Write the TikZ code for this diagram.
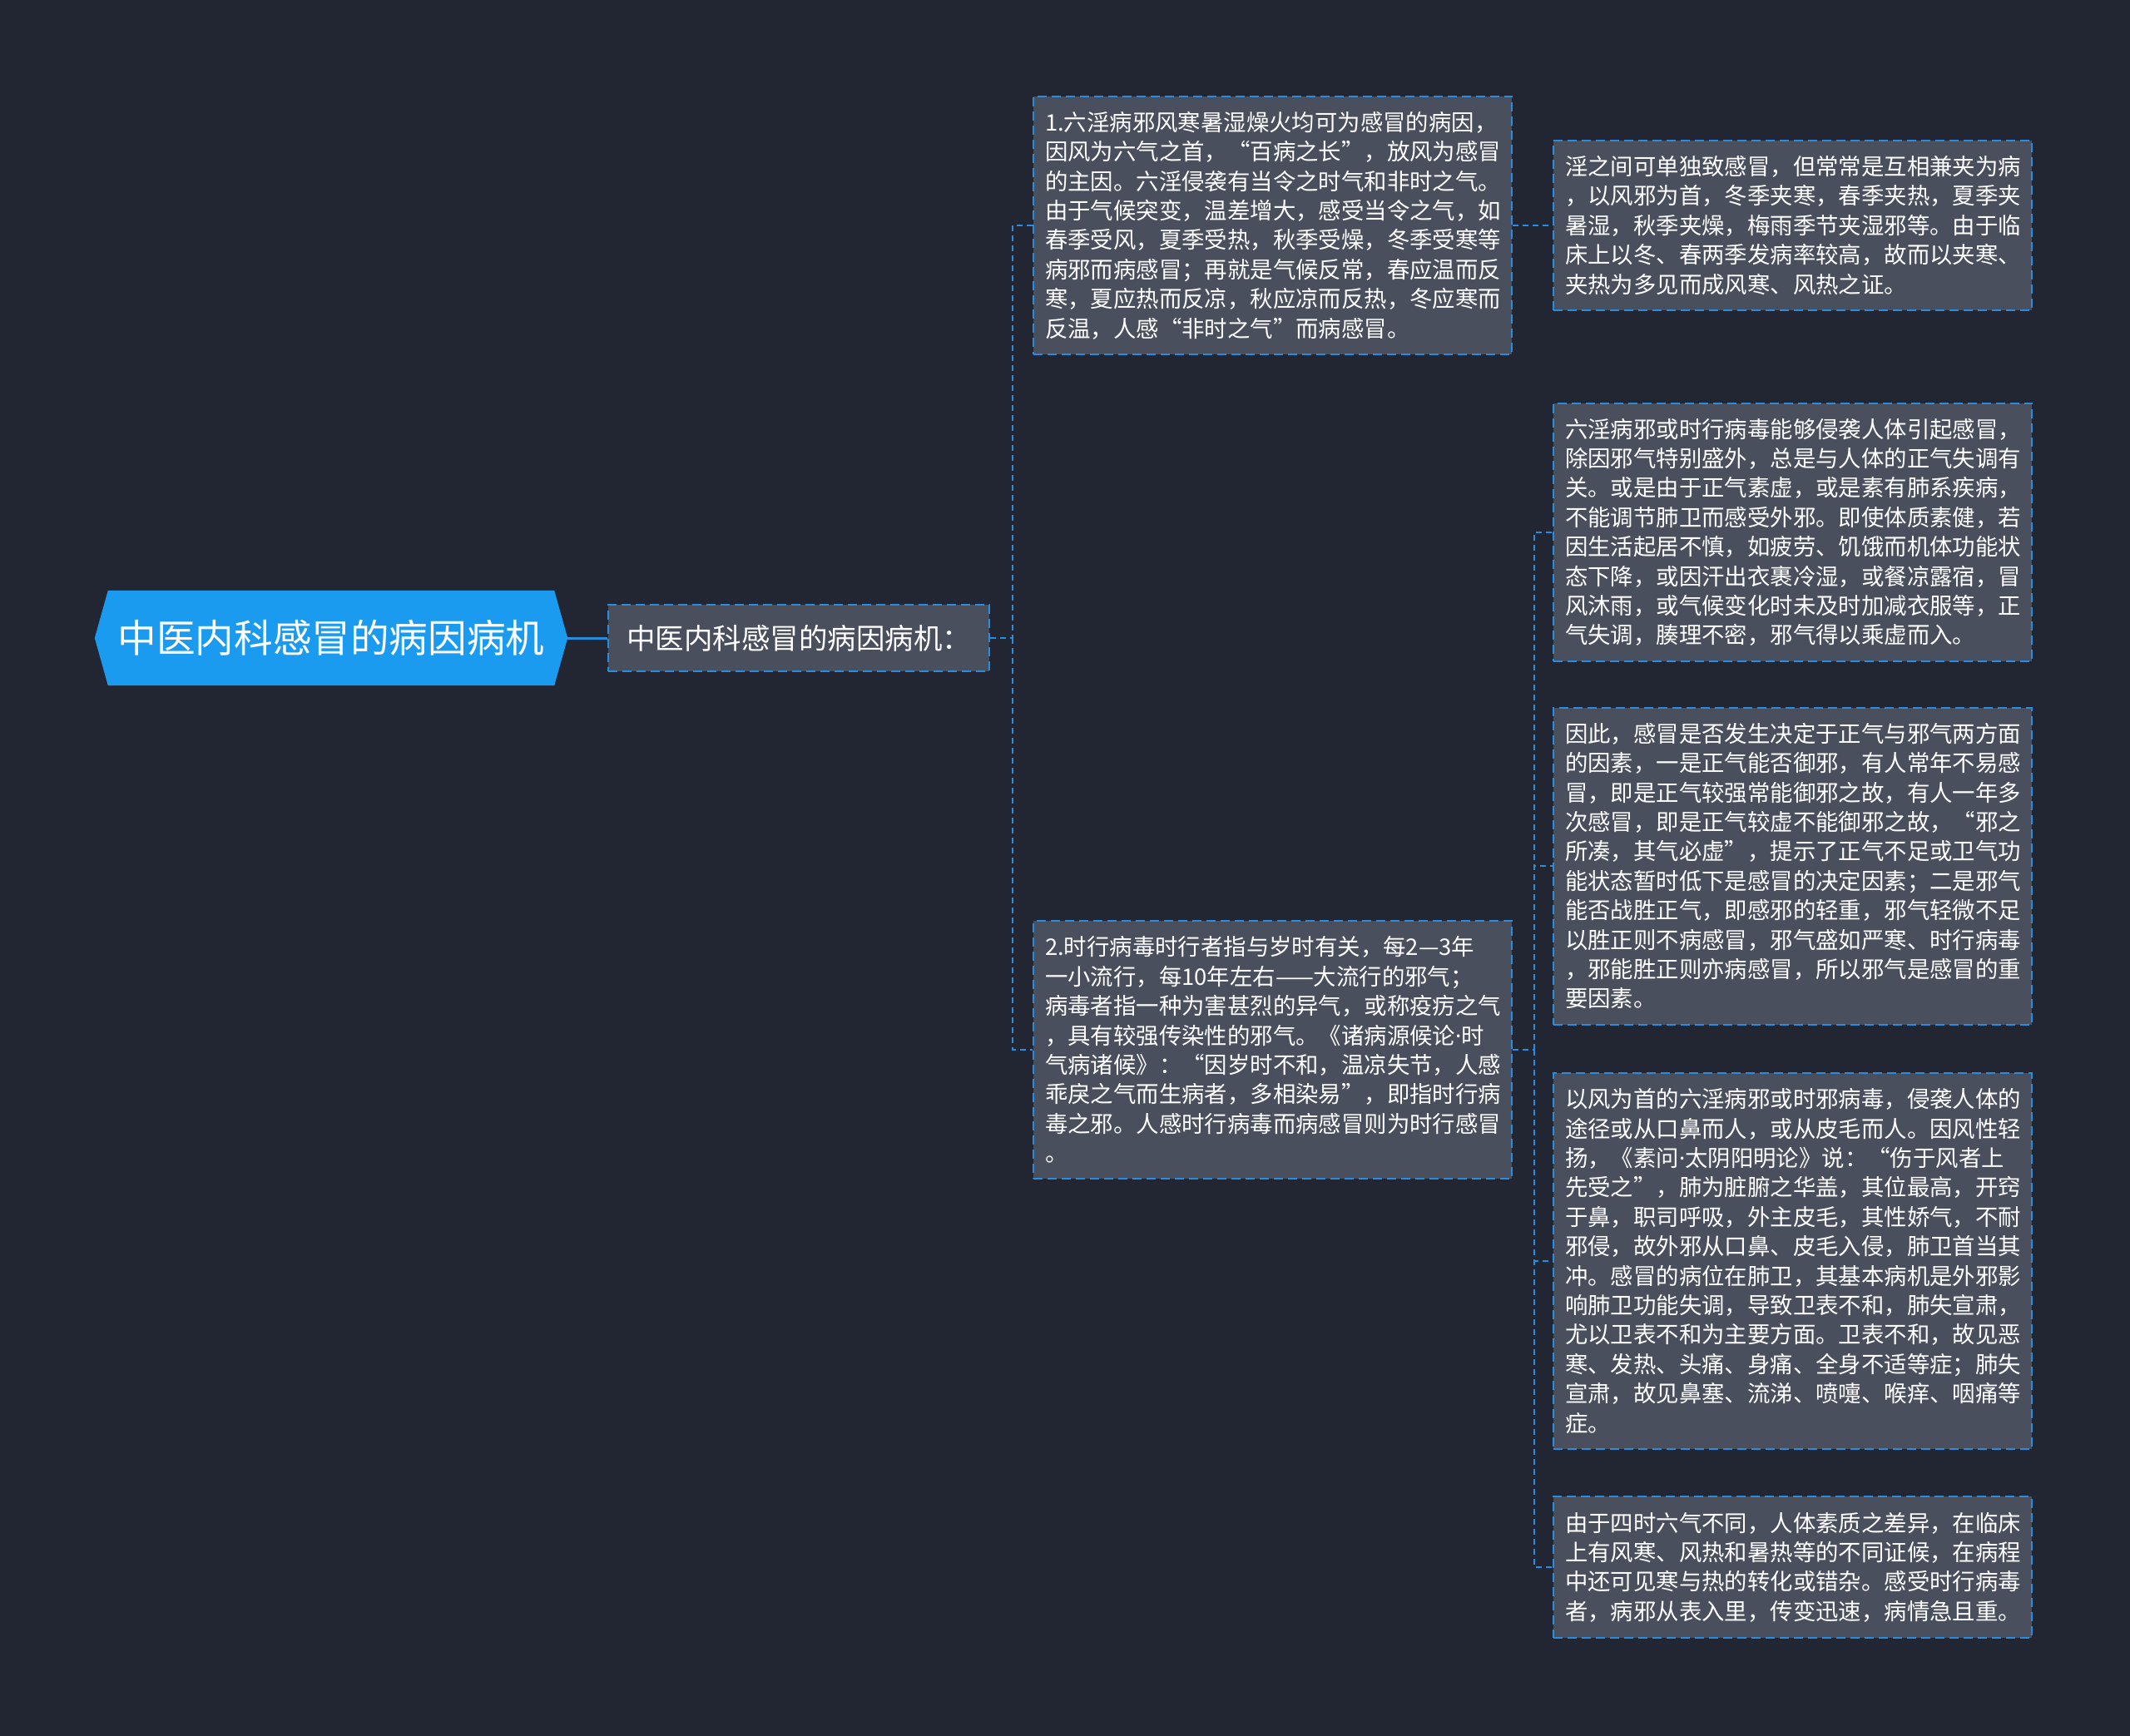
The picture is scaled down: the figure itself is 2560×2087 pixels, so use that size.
\documentclass[tikz,border=0pt]{standalone}
\usepackage{fontspec}
\setmainfont{Noto Sans CJK SC}
\newfontfamily\latin{Noto Sans}
\usetikzlibrary{calc,positioning}
\pgfdeclarelayer{bg}
\pgfsetlayers{bg,main}
\definecolor{canvas}{HTML}{222633}
\definecolor{slate}{HTML}{4A4F5D}
\definecolor{wire}{HTML}{2A8CDD}
\definecolor{sky}{HTML}{1B9BF0}
\newcommand{\mdot}{{\latin ·}}

\begin{document}
\begin{tikzpicture}[x=1pt, y=-1pt,
  box/.style={draw=wire, fill=slate, line width=2pt, dash pattern=on 11pt off 6pt, text=white},
  leaf/.style={box, anchor=west, text width=547pt, align=left, inner xsep=14pt, inner ysep=18.5pt,
    font=\fontsize{27.4pt}{35.4pt}\selectfont},
  link/.style={draw=wire, line width=2pt, dash pattern=on 7pt off 5pt}]
\begin{pgfonlayer}{bg}
\fill[canvas] (0,0) rectangle (2560,2087);
\end{pgfonlayer}
\useasboundingbox (0,0) rectangle (2560,2087);

\node[minimum width=568pt, minimum height=114pt, inner sep=0pt, text=white,
  font=\fontsize{46.6pt}{56pt}\selectfont] (root) at (398, 767) {中医内科感冒的病因病机};
\begin{pgfonlayer}{bg}
\fill[sky] (root.west) -- ($(root.north west)+(16,0)$) -- ($(root.north east)+(-16,0)$)
  -- (root.east) -- ($(root.south east)+(-16,0)$) -- ($(root.south west)+(16,0)$) -- cycle;
\end{pgfonlayer}

\node[box, minimum width=458pt, minimum height=80pt, inner sep=0pt,
  font=\fontsize{34.5pt}{40pt}\selectfont] (cause) at (960, 767) {中医内科感冒的病因病机：};

\node[leaf] (six) at (1241, 271) {1.六淫病邪风寒暑湿燥火均可为感冒的病因，\\
因风为六气之首，“百病之长”，放风为感冒\\
的主因。六淫侵袭有当令之时气和非时之气。\\
由于气候突变，温差增大，感受当令之气，如\\
春季受风，夏季受热，秋季受燥，冬季受寒等\\
病邪而病感冒；再就是气候反常，春应温而反\\
寒，夏应热而反凉，秋应凉而反热，冬应寒而\\
反温，人感“非时之气”而病感冒。};

\node[leaf] (sixmix) at (1866, 271) {淫之间可单独致感冒，但常常是互相兼夹为病\\
，以风邪为首，冬季夹寒，春季夹热，夏季夹\\
暑湿，秋季夹燥，梅雨季节夹湿邪等。由于临\\
床上以冬、春两季发病率较高，故而以夹寒、\\
夹热为多见而成风寒、风热之证。};

\node[leaf] (epi) at (1241, 1262) {2.时行病毒时行者指与岁时有关，每2—3年\\
一小流行，每10年左右——大流行的邪气；\\
病毒者指一种为害甚烈的异气，或称疫疠之气\\
，具有较强传染性的邪气。《诸病源候论\mdot 时\\
气病诸候》：“因岁时不和，温凉失节，人感\\
乖戾之气而生病者，多相染易”，即指时行病\\
毒之邪。人感时行病毒而病感冒则为时行感冒\\
。};

\node[leaf] (weak) at (1866, 640) {六淫病邪或时行病毒能够侵袭人体引起感冒，\\
除因邪气特别盛外，总是与人体的正气失调有\\
关。或是由于正气素虚，或是素有肺系疾病，\\
不能调节肺卫而感受外邪。即使体质素健，若\\
因生活起居不慎，如疲劳、饥饿而机体功能状\\
态下降，或因汗出衣裹冷湿，或餐凉露宿，冒\\
风沐雨，或气候变化时未及时加减衣服等，正\\
气失调，腠理不密，邪气得以乘虚而入。};

\node[leaf] (deci) at (1866, 1041) {因此，感冒是否发生决定于正气与邪气两方面\\
的因素，一是正气能否御邪，有人常年不易感\\
冒，即是正气较强常能御邪之故，有人一年多\\
次感冒，即是正气较虚不能御邪之故，“邪之\\
所凑，其气必虚”，提示了正气不足或卫气功\\
能状态暂时低下是感冒的决定因素；二是邪气\\
能否战胜正气，即感邪的轻重，邪气轻微不足\\
以胜正则不病感冒，邪气盛如严寒、时行病毒\\
，邪能胜正则亦病感冒，所以邪气是感冒的重\\
要因素。};

\node[leaf] (entry) at (1866, 1516) {以风为首的六淫病邪或时邪病毒，侵袭人体的\\
途径或从口鼻而人，或从皮毛而人。因风性轻\\
扬，《素问\mdot 太阴阳明论》说：“伤于风者上\\
先受之”，肺为脏腑之华盖，其位最高，开窍\\
于鼻，职司呼吸，外主皮毛，其性娇气，不耐\\
邪侵，故外邪从口鼻、皮毛入侵，肺卫首当其\\
冲。感冒的病位在肺卫，其基本病机是外邪影\\
响肺卫功能失调，导致卫表不和，肺失宣肃，\\
尤以卫表不和为主要方面。卫表不和，故见恶\\
寒、发热、头痛、身痛、全身不适等症；肺失\\
宣肃，故见鼻塞、流涕、喷嚏、喉痒、咽痛等\\
症。};

\node[leaf] (season) at (1866, 1884) {由于四时六气不同，人体素质之差异，在临床\\
上有风寒、风热和暑热等的不同证候，在病程\\
中还可见寒与热的转化或错杂。感受时行病毒\\
者，病邪从表入里，传变迅速，病情急且重。};

\draw[wire, line width=3pt] (root.east) -- (cause.west);

\coordinate (fork) at ($(cause.east)+(27,0)$);
\draw[link] (cause.east) -- (fork) |- (six.west);
\draw[link] (fork) |- (epi.west);

\draw[link] (six.east) -- (sixmix.west);

\coordinate (epifork) at ($(epi.east)+(26,0)$);
\draw[link] (epi.east) -- (epifork);
\foreach \n in {weak, deci, entry, season}
  \draw[link] (epifork) |- (\n.west);
\end{tikzpicture}
\end{document}
